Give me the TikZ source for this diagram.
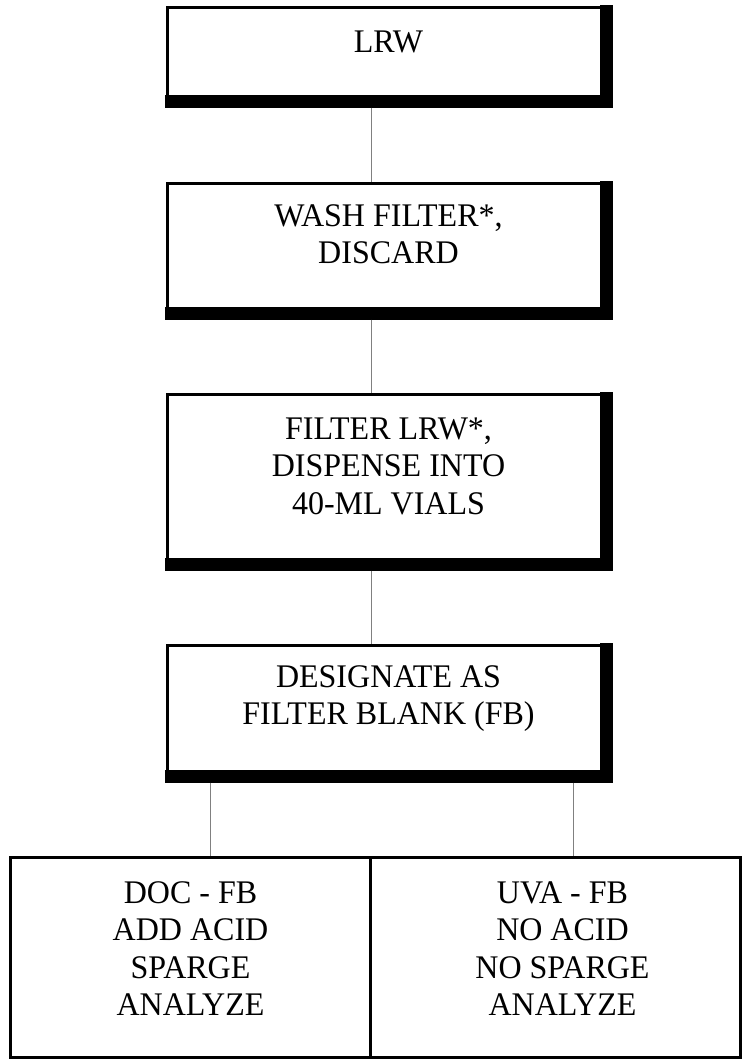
\documentclass[tikz,border=0pt]{standalone}
\usepackage{fontspec}
\setmainfont{Liberation Serif}[FakeStretch=0.97]
\usetikzlibrary{positioning}

\begin{document}
\begin{tikzpicture}[x=1pt, y=1pt,
  box/.style={draw, line width=3pt, minimum width=442pt, inner sep=0pt},
  cell/.style={draw, line width=3pt, minimum height=200pt, inner sep=0pt},
  txt/.style={align=center, font=\fontsize{33}{37.5}\selectfont},
  link/.style={gray, line width=0.8pt}]
  \useasboundingbox (0,0) rectangle (743,-1061);
  \coordinate (axis) at (371,0);

  % main column
  \node[box, minimum height=97pt]  (lrw)   at (388.5,-56)   {};
  \node[box, minimum height=133pt] (wash)  at (388.5,-250)  {};
  \node[box, minimum height=173pt] (filt)  at (388.5,-481)  {};
  \node[box, minimum height=134pt] (desig) at (388.5,-712.5) {};
  \foreach \b in {lrw,wash,filt,desig}{
    \fill ([shift={(-1.5pt,-1.5pt)}]\b.south west) rectangle ([shift={(1.5pt,11.5pt)}]\b.south east);
    \fill ([shift={(-11.5pt,-1.5pt)}]\b.south east) rectangle ([shift={(1.5pt,1.5pt)}]\b.north east);
  }

  % split
  \node[cell, minimum width=360pt] (doc) at (190.5,-957.5) {};
  \node[cell, minimum width=370pt] (uva) at (555.5,-957.5) {};

  % texts
  \node[txt] (lrwt)   at ([yshift=14pt]lrw.center)   {LRW};
  \node[txt] (washt)  at ([yshift=16pt]wash.center)  {WASH FILTER*,\\DISCARD};
  \node[txt] (filtt)  at ([yshift=15pt]filt.center)  {FILTER LRW*,\\DISPENSE INTO\\40-ML VIALS};
  \node[txt] (desigt) at ([yshift=14pt]desig.center) {DESIGNATE AS\\FILTER BLANK (FB)};
  \node[txt] (doct)   at ([yshift=9pt]doc.center)    {DOC - FB\\ADD ACID\\SPARGE\\ANALYZE};
  \node[txt] (uvat)   at ([shift={(7pt,9pt)}]uva.center) {UVA - FB\\NO ACID\\NO SPARGE\\ANALYZE};

  % connectors
  \draw[link] ([yshift=-1.5pt]lrw.south -| axis)  -- (wash.north -| axis);
  \draw[link] ([yshift=-1.5pt]wash.south -| axis) -- (filt.north -| axis);
  \draw[link] ([yshift=-1.5pt]filt.south -| axis) -- (desig.north -| axis);
  \draw[link] ([yshift=-1.5pt]desig.south -| 210,0) -- (doc.north -| 210,0);
  \draw[link] ([yshift=-1.5pt]desig.south -| 573,0) -- (uva.north -| 573,0);
\end{tikzpicture}
\end{document}
